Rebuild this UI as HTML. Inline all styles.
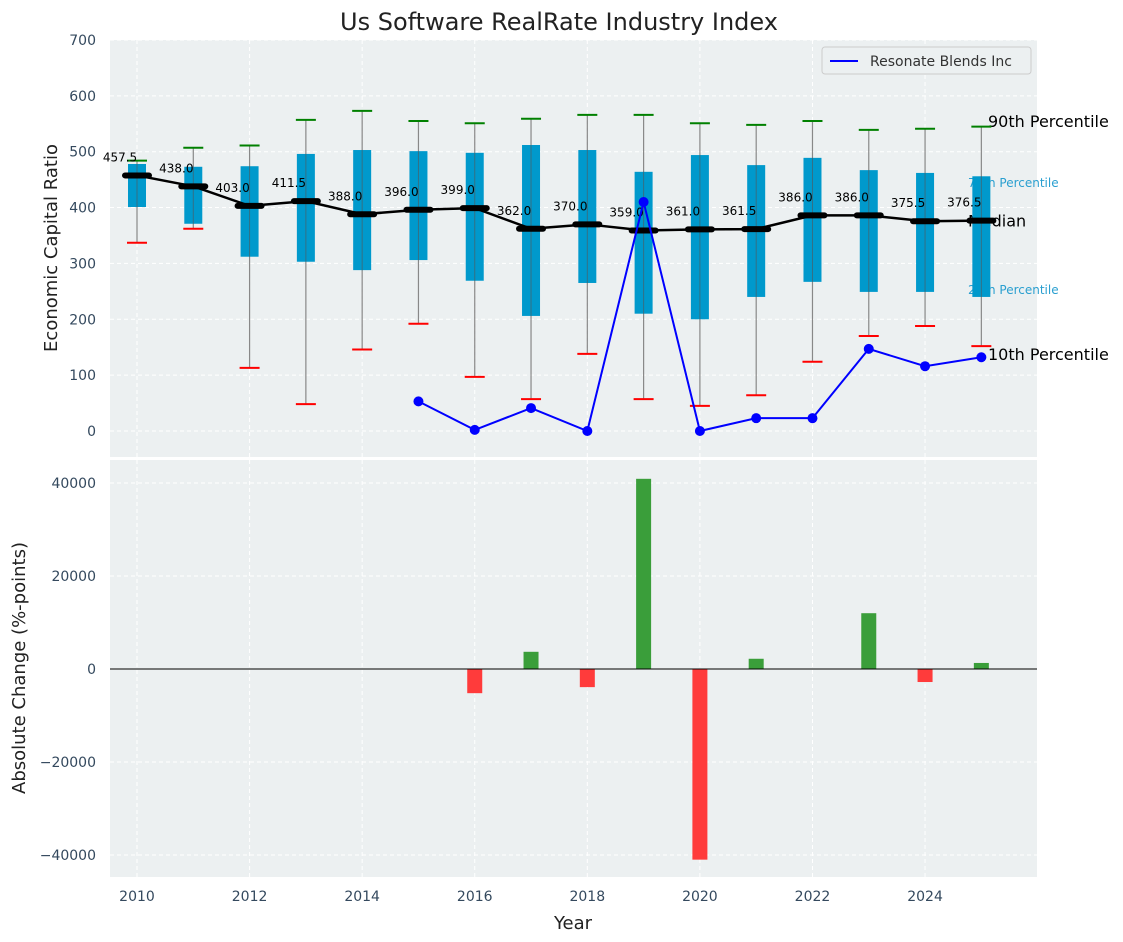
<!DOCTYPE html>
<html><head><meta charset="utf-8"><style>
body{margin:0;background:#fff;}
svg{display:block;font-family:"DejaVu Sans","Liberation Sans",sans-serif;}
</style></head><body>
<svg id="chart" width="1123" height="942" viewBox="0 0 1123 942" xmlns="http://www.w3.org/2000/svg">
<text x="559" y="30" font-size="24" text-anchor="middle" fill="#222">Us Software RealRate Industry Index</text>
<rect x="110" y="40" width="927" height="417" fill="#ecf0f1"/>
<rect x="110" y="460" width="927" height="417" fill="#ecf0f1"/>
<g id="grid"></g>
<g id="marks"></g>
<text transform="translate(57,248) rotate(-90)" font-size="18" text-anchor="middle" fill="#222">Economic Capital Ratio</text>
<text transform="translate(25,668) rotate(-90)" font-size="18" text-anchor="middle" fill="#222">Absolute Change (%-points)</text>
<text x="573" y="929" font-size="18" text-anchor="middle" fill="#222">Year</text>
<g>
<rect x="822" y="47" width="209" height="27" rx="3" fill="#ecf0f1" stroke="#ccc"/>
<line x1="830" y1="61" x2="858" y2="61" stroke="#0000ff" stroke-width="2"/>
<text x="870" y="66" font-size="14" fill="#333">Resonate Blends Inc</text>
</g>
</svg>
<script>
const years=[2010,2011,2012,2013,2014,2015,2016,2017,2018,2019,2020,2021,2022,2023,2024,2025];
const p10=[337,362,113,48,146,192,97,57,138,57,45,64,124,170,188,152];
const q1=[401,371,312,303,288,306,269,206,265,210,200,240,267,249,249,240];
const medians=[457.5,438,403,411.5,388,396,399,362,370,359,361,361.5,386,386,375.5,376.5];
const q3=[478,473,474,496,503,501,498,512,503,464,494,476,489,467,462,456];
const p90=[484,507,511,557,573,555,551,559,566,566,551,548,555,539,541,545];
const lineYears=[2015,2016,2017,2018,2019,2020,2021,2022,2023,2024,2025];
const lineValues=[53,2,41,0,410,0,23,23,147,116,132];
const changeYears=[2016,2017,2018,2019,2020,2021,2022,2023,2024,2025];
const changeValues=[-5200,3700,-3900,40900,-41000,2200,0,12000,-2800,1300];
const topTicks=[0,100,200,300,400,500,600,700];
const bottomTicks=[-40000,-20000,0,20000,40000];
const xTicks=[2010,2012,2014,2016,2018,2020,2022,2024];

const NS="http://www.w3.org/2000/svg";
const X=y=>137+(y-2010)*56.29;
const YT=v=>431-v*0.5586;
const YB=v=>669-v*(186/40000);
const grid=document.getElementById('grid'), marks=document.getElementById('marks'), svg=document.getElementById('chart');
function mk(tag,attrs,parent){const e=document.createElementNS(NS,tag);for(const k in attrs)e.setAttribute(k,attrs[k]);(parent||marks).appendChild(e);return e;}
function txt(s,attrs,parent){const e=mk('text',attrs,parent);e.textContent=s;return e;}

topTicks.forEach(t=>{
  const l=mk('line',{x1:110,x2:1037,y1:YT(t),y2:YT(t),stroke:'#fff','stroke-dasharray':'4,3'},grid);
  
  
  const e=txt(t,{x:96,y:YT(t)+5,'font-size':14,'text-anchor':'end',fill:'#34495e'},svg);
  
  
});
bottomTicks.forEach(t=>{
  const l=mk('line',{x1:110,x2:1037,y1:YB(t),y2:YB(t),stroke:'#fff','stroke-dasharray':'4,3'},grid);
  
  
  const e=txt(t<0?'\u2212'+Math.abs(t):t,{x:96,y:YB(t)+5,'font-size':14,'text-anchor':'end',fill:'#34495e'},svg);
  
  
});
xTicks.forEach(t=>{
  [[40,457],[460,877]].forEach(r=>{
    const l=mk('line',{x1:X(t),x2:X(t),y1:r[0],y2:r[1],stroke:'#fff','stroke-dasharray':'4,3'},grid);
    
    
  });
  const e=txt(t,{x:X(t),y:901,'font-size':14,'text-anchor':'middle',fill:'#34495e'},svg);
  
  
});

// right annotations (under boxes)
const last=years.length-1;
[['90th Percentile',p90[last]+10,16,'#000',988],['75th Percentile',q3[last]-12,12,'#2a9fd0',968],['Median',medians[last],16,'#000',968],['25th Percentile',q1[last]+12,12,'#2a9fd0',968],['10th Percentile',p10[last]-14,16,'#000',988]].forEach(a=>{
  const e=txt(a[0],{x:a[4],y:YT(a[1])+(a[2]>12?6:4),'font-size':a[2],fill:a[3]});
  
  
});

years.forEach((y,i)=>{
  const x=X(y);
  const w=mk('line',{x1:x,x2:x,y1:YT(p90[i]),y2:YT(p10[i]),stroke:'#888','stroke-width':1.2});
  
  
  const b=mk('rect',{x:x-9,y:YT(q3[i]),width:18,height:YT(q1[i])-YT(q3[i]),fill:'#0099cc'});
  
  
  const w2=mk('line',{x1:x,x2:x,y1:YT(q3[i]),y2:YT(q1[i]),stroke:'#555','stroke-width':1,opacity:0.6});
  
  
  const c1=mk('line',{x1:x-10,x2:x+10,y1:YT(p90[i]),y2:YT(p90[i]),stroke:'green','stroke-width':2});
  
  
  const c2=mk('line',{x1:x-10,x2:x+10,y1:YT(p10[i]),y2:YT(p10[i]),stroke:'red','stroke-width':2});
  
  
});
const mpts=years.map((y,i)=>X(y)+','+YT(medians[i])).join(' ');
const ml=mk('polyline',{points:mpts,fill:'none',stroke:'#000','stroke-width':2.5});


years.forEach((y,i)=>{
  const x=X(y);
  const m=mk('line',{x1:x-12,x2:x+12,y1:YT(medians[i]),y2:YT(medians[i]),stroke:'#000','stroke-width':6,'stroke-linecap':'round'});
  
  
  const t=txt(medians[i].toFixed(1),{x:x-17,y:YT(medians[i])-14,'font-size':12,'text-anchor':'middle',fill:'#000'});
  
  
});
const lpts=lineYears.map((y,i)=>X(y)+','+YT(lineValues[i])).join(' ');
const bl=mk('polyline',{points:lpts,fill:'none',stroke:'#0000ff','stroke-width':2});


lineYears.forEach((y,i)=>{
  const c=mk('circle',{cx:X(y),cy:YT(lineValues[i]),r:5,fill:'#0000ff'});
  
  
});
changeYears.forEach((y,i)=>{
  const v=changeValues[i];
  const y0=YB(Math.max(v,0)), h=Math.abs(YB(v)-YB(0));
  const r=mk('rect',{x:X(y)-7.5,y:y0,width:15,height:h,fill:v>=0?'#3a9e3a':'#ff3b3b'});
  
  
});
const zl=mk('line',{x1:110,x2:1037,y1:YB(0),y2:YB(0),stroke:'#000','stroke-width':1});


</script>
</body></html>
